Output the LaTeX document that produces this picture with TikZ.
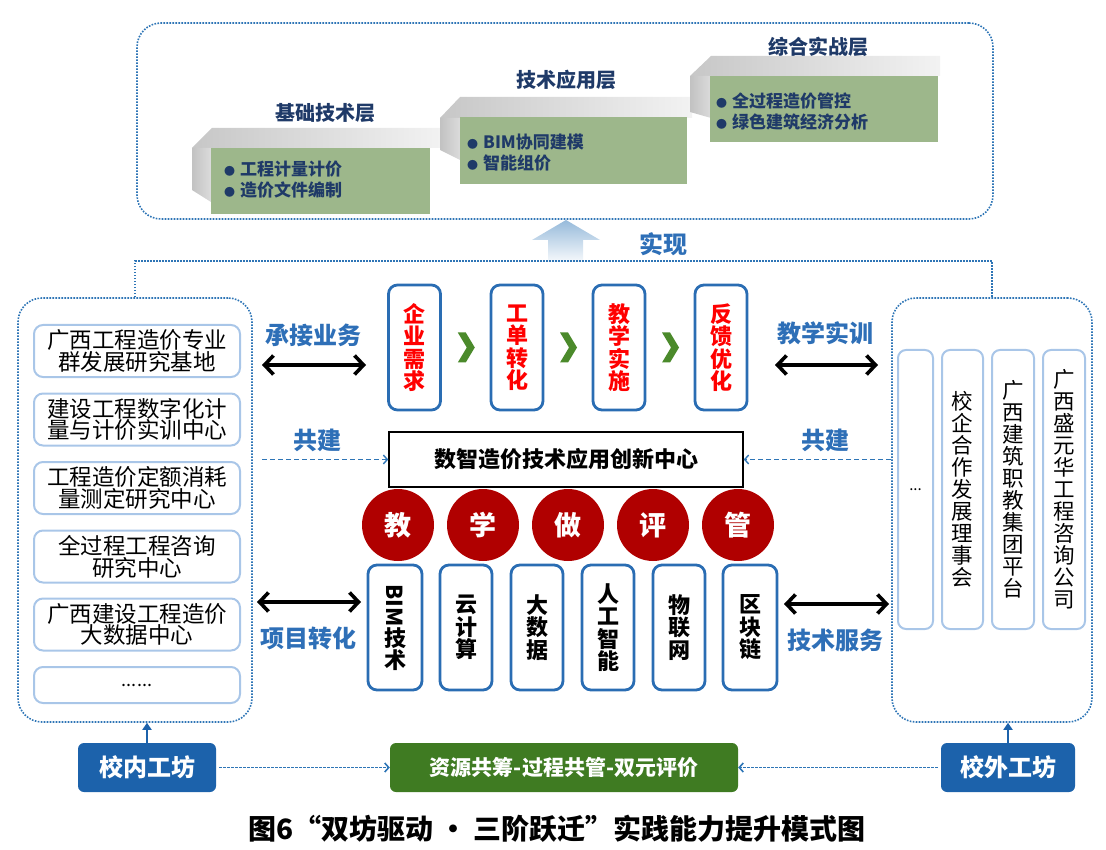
\documentclass[tikz,border=0pt]{standalone}
\usepackage{fontspec}
\setmainfont{Noto Sans CJK SC}
\usetikzlibrary{arrows.meta,calc}
\definecolor{dotblue}{HTML}{2E75B6}
\definecolor{lblue}{HTML}{2E6FB7}
\definecolor{navy}{HTML}{1F3A68}
\definecolor{sage}{HTML}{9DB78B}
\definecolor{lightbord}{HTML}{A9C6E8}
\definecolor{boxblue}{HTML}{2A6DB3}
\definecolor{chev}{HTML}{4B8A2B}
\definecolor{circred}{HTML}{B00000}
\definecolor{wsblue}{HTML}{1C62AB}
\definecolor{dgreen}{HTML}{3F7B22}
\newcommand{\fsz}[2]{\fontsize{#1}{#2}\selectfont}
\tikzset{
  dotbox/.style={draw=dotblue, line width=1.6pt, dash pattern=on 1.6pt off 1.4pt, rounded corners=24pt, inner sep=0pt},
  dotline/.style={draw=dotblue, line width=1.6pt, dash pattern=on 1.6pt off 1.4pt},
  leftitem/.style={draw=lightbord, line width=2pt, rounded corners=9pt, minimum width=206pt, minimum height=52pt, inner sep=0pt, align=center, font=\fsz{22.5}{21}},
  rightitem/.style={draw=lightbord, line width=2pt, rounded corners=8pt, minimum width=41pt, minimum height=279pt, inner sep=0pt, align=center, font=\fsz{21.5}{22}},
  flowbox/.style={draw=boxblue, line width=2.8pt, rounded corners=9pt, minimum width=52pt, minimum height=125pt, inner sep=0pt, align=center, text=red, font=\bfseries\fsz{22}{22.5}},
  techbox/.style={draw=boxblue, line width=2.8pt, rounded corners=9pt, minimum width=52pt, minimum height=125pt, inner sep=0pt, align=center, font=\bfseries\fsz{22}{22.5}},
  circ/.style={circle, fill=circred, minimum size=72pt, inner sep=0pt, text=white, font=\bfseries\fsz{27}{27}},
  lbl/.style={text=lblue, font=\bfseries\fsz{24}{24}, inner sep=0pt},
  dbl/.style={{Straight Barb[length=9pt,width=19pt]}-{Straight Barb[length=9pt,width=19pt]}, line width=3.6pt},
  dasharr/.style={draw=dotblue, dash pattern=on 5pt off 3pt, line width=1.4pt, -{Straight Barb[length=4pt,width=9pt]}},
  dotarr/.style={draw=dotblue, dash pattern=on 2.5pt off 1.5pt, line width=1.6pt, -{Straight Barb[length=4pt,width=9pt]}},
  ws/.style={fill=wsblue, rounded corners=6pt, minimum height=49pt, inner sep=0pt, text=white, font=\bfseries\fsz{24}{24}},
  greenbox/.style={fill=dgreen, rounded corners=6pt, minimum width=348pt, minimum height=49pt, inner sep=0pt, text=white, font=\bfseries\fsz{21}{21}},
  upar/.style={draw=wsblue, line width=2.5pt, -{Triangle[length=7pt,width=9pt]}},
  stepgreen/.style={fill=sage, inner sep=0pt, anchor=north west},
  steptitle/.style={text=navy, font=\bfseries\fsz{20}{20}},
  bul/.style={text=navy, font=\bfseries\fsz{17}{21}, align=left, anchor=west, inner sep=0pt},
  stepface/.style={left color=black!22, right color=black!5},
  stepside/.style={left color=black!24, right color=black!14},
}
\newcommand{\bdot}{{\fsz{11}{11}●}\hspace{5pt}}
\begin{document}
\begin{tikzpicture}[x=1pt,y=-1pt]
\useasboundingbox (0,0) rectangle (1106,850);

% ---------- top area ----------
\node[dotbox, minimum width=856pt, minimum height=196pt] (topbox) at (565,121) {};

% step 1
\shade[stepface] (192,148) -- (212,128) -- (442,128) -- (442,148) -- cycle;
\shade[stepside] (192,148) -- (211,148) -- (211,202) -- (192,190) -- cycle;
\node[stepgreen, minimum width=219pt, minimum height=66pt] (g1) at (211,148) {};
% step 2
\shade[stepface] (440,118) -- (460,97) -- (692,97) -- (692,118) -- cycle;
\shade[stepside] (440,118) -- (460,118) -- (460,160) -- (440,150) -- cycle;
\node[stepgreen, minimum width=227pt, minimum height=67pt] (g2) at (460,117) {};
% step 3
\shade[stepface] (690,76) -- (711,56) -- (940,56) -- (940,76) -- cycle;
\shade[stepside] (690,76) -- (711,76) -- (711,118) -- (690,112) -- cycle;
\node[stepgreen, minimum width=228pt, minimum height=66pt] (g3) at (710,76) {};

\node[steptitle] (s1t) at (325,113) {基础技术层};
\node[steptitle] (s2t) at (566,80) {技术应用层};
\node[steptitle] (s3t) at (818,47) {综合实战层};

\node[bul] (b1) at (224,180) {\bdot 工程计量计价\\\bdot 造价文件编制};
\node[bul] (b2) at (467,152.5) {\bdot BIM协同建模\\\bdot 智能组价};
\node[bul] (b3) at (716,111) {\bdot 全过程造价管控\\\bdot 绿色建筑经济分析};

% realize arrow
\shade[top color=dotblue!50, bottom color=dotblue!4] (548,262) -- (548,240) -- (532,240) -- (566,220) -- (600,240) -- (583,240) -- (583,262) -- cycle;
\node[lbl] (sx) at (663,244) {实现};

% ---------- side containers ----------
\node[dotbox, minimum width=234pt, minimum height=424pt] (lb) at (135,510) {};
\node[dotbox, minimum width=200pt, minimum height=424pt] (rb) at (992,510) {};
\draw[dotline] (lb.north) -- ++(0,-36) -| (rb.north);

\node[leftitem] (l1) at (137,351) {广西工程造价专业\\群发展研究基地};
\node[leftitem] (l2) at (137,419.5) {建设工程数字化计\\量与计价实训中心};
\node[leftitem] (l3) at (137,488) {工程造价定额消耗\\量测定研究中心};
\node[leftitem] (l4) at (137,556.5) {全过程工程咨询\\研究中心};
\node[leftitem] (l5) at (137,624.5) {广西建设工程造价\\大数据中心};
\node[leftitem, minimum height=36pt, font=\fsz{18}{18}] (l6) at (137,685) {......};

\node[rightitem, minimum width=35pt, font=\fsz{15}{15}] (r1) at (915.5,489.5) {...};
\node[rightitem] (r2) at (962.5,489.5) {校\\企\\合\\作\\发\\展\\理\\事\\会};
\node[rightitem, minimum width=42pt] (r3) at (1013,489.5) {广\\西\\建\\筑\\职\\教\\集\\团\\平\\台};
\node[rightitem, minimum width=42pt] (r4) at (1064,489.5) {广\\西\\盛\\元\\华\\工\\程\\咨\\询\\公\\司};

% ---------- center ----------
\node[flowbox] (f1) at (414.5,347.5) {企\\业\\需\\求};
\node[flowbox] (f2) at (517,347.5) {工\\单\\转\\化};
\node[flowbox] (f3) at (619,347.5) {教\\学\\实\\施};
\node[flowbox] (f4) at (721,347.5) {反\\馈\\优\\化};
\foreach \a/\b in {f1/f2,f2/f3,f3/f4}
  \fill[chev] ($(\a.east)!0.5!(\b.west)$) ++(-8,-15) -- ++(8,0) -- ++(9,15) -- ++(-9,15) -- ++(-8,0) -- ++(9,-15) -- cycle;

\node[draw, line width=1.5pt, minimum width=354pt, minimum height=55pt, inner sep=0pt, font=\bfseries\fsz{22}{22}] (cb) at (566,459.5) {数智造价技术应用创新中心};

\node[circ] (c1) at (398,525) {教};
\node[circ] (c2) at (483,525) {学};
\node[circ] (c3) at (568,525) {做};
\node[circ] (c4) at (653,525) {评};
\node[circ] (c5) at (738,525) {管};

\node[techbox, minimum width=54pt] (t1) at (395,627.5) {\rotatebox[origin=c]{-90}{BIM}\\技\\术};
\node[techbox] (t2) at (466,627.5) {云\\计\\算};
\node[techbox] (t3) at (537,627.5) {大\\数\\据};
\node[techbox] (t4) at (608,627.5) {人\\工\\智\\能};
\node[techbox] (t5) at (679,627.5) {物\\联\\网};
\node[techbox, minimum width=54pt] (t6) at (750,627.5) {区\\块\\链};

% ---------- labels and arrows ----------
\node[lbl] (la1) at (313,335) {承接业务};
\node[lbl] (la2) at (317,440) {共建};
\node[lbl] (la3) at (308,638) {项目转化};
\node[lbl] (ra1) at (825,333) {教学实训};
\node[lbl] (ra2) at (825,440) {共建};
\node[lbl] (ra3) at (835,640) {技术服务};

\coordinate (a1s) at (262,365); \coordinate (a1e) at (366,365);
\coordinate (a2s) at (775,365); \coordinate (a2e) at (878,365);
\coordinate (a3s) at (257,602); \coordinate (a3e) at (361,602);
\coordinate (a4s) at (784,604); \coordinate (a4e) at (889,604);
\draw[dbl] (a1s) -- (a1e);
\draw[dbl] (a2s) -- (a2e);
\draw[dbl] (a3s) -- (a3e);
\draw[dbl] (a4s) -- (a4e);

\coordinate (gjl) at (262,459.5);
\draw[dasharr] (gjl) -- (cb.west);
\draw[dasharr] (rb.west |- cb.east) -- (cb.east);

% ---------- bottom ----------
\node[ws, minimum width=138pt] (ws1) at (147,767.5) {校内工坊};
\node[greenbox] (gb) at (564,767.5) {资源共筹-过程共管-双元评价};
\node[ws, minimum width=134pt] (ws2) at (1008,767.5) {校外工坊};
\draw[upar] (ws1.north) -- (ws1.north |- lb.south);
\draw[upar] (ws2.north) -- (ws2.north |- rb.south);
\draw[dotarr] ([xshift=3pt]ws1.east) -- (gb.west);
\draw[dotarr] ([xshift=-3pt]ws2.west) -- (gb.east);

\node[font=\bfseries\fsz{28}{28}] (cap) at (557,829) {图6“双坊驱动 • 三阶跃迁”实践能力提升模式图};
\end{tikzpicture}
\end{document}
